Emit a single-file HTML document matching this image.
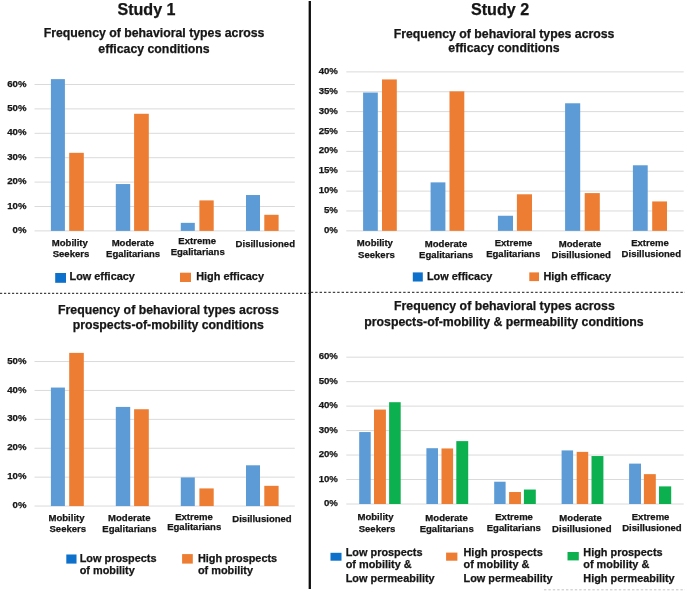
<!DOCTYPE html><html><head><meta charset="utf-8"><style>
html,body{margin:0;padding:0;background:#fff;}
svg{display:block;font-family:"Liberation Sans",sans-serif;font-weight:bold;fill:#141414;}text{stroke:#141414;stroke-width:0.25px;}
</style></head><body>
<svg width="685" height="591" viewBox="0 0 685 591">
<defs><filter id="soft" x="0" y="0" width="685" height="591" filterUnits="userSpaceOnUse"><feGaussianBlur stdDeviation="0.45"/></filter></defs>
<rect width="685" height="591" fill="#fff"/>
<g filter="url(#soft)">
<line x1="309.8" x2="309.8" y1="1" y2="589" stroke="#0a0a0a" stroke-width="2.3"/>
<line x1="0" x2="308.8" y1="293.4" y2="293.4" stroke="#444" stroke-width="1.2" stroke-dasharray="2.2 1.8"/>
<line x1="310.8" x2="685" y1="292.3" y2="292.3" stroke="#444" stroke-width="1.2" stroke-dasharray="2.4 2"/>
<line x1="544" x2="685" y1="589.8" y2="589.8" stroke="#c4c4c4" stroke-width="1" stroke-dasharray="2.4 2"/>
<text x="146.50" y="14.80" font-size="16.1" text-anchor="middle" >Study 1</text>
<text x="500.10" y="15.20" font-size="16.1" text-anchor="middle" >Study 2</text>
<text x="154.00" y="37.30" font-size="12.3" text-anchor="middle" >Frequency of behavioral types across</text>
<text x="154.00" y="52.70" font-size="12.3" text-anchor="middle" >efficacy conditions</text>
<line x1="34.5" x2="294.8" y1="230.90" y2="230.90" stroke="#dadada" stroke-width="1"/>
<text x="26.50" y="233.00" font-size="9.65" text-anchor="end" >0%</text>
<line x1="34.5" x2="294.8" y1="206.50" y2="206.50" stroke="#dadada" stroke-width="1"/>
<text x="26.50" y="208.60" font-size="9.65" text-anchor="end" >10%</text>
<line x1="34.5" x2="294.8" y1="182.10" y2="182.10" stroke="#dadada" stroke-width="1"/>
<text x="26.50" y="184.20" font-size="9.65" text-anchor="end" >20%</text>
<line x1="34.5" x2="294.8" y1="157.70" y2="157.70" stroke="#dadada" stroke-width="1"/>
<text x="26.50" y="159.80" font-size="9.65" text-anchor="end" >30%</text>
<line x1="34.5" x2="294.8" y1="133.30" y2="133.30" stroke="#dadada" stroke-width="1"/>
<text x="26.50" y="135.40" font-size="9.65" text-anchor="end" >40%</text>
<line x1="34.5" x2="294.8" y1="108.90" y2="108.90" stroke="#dadada" stroke-width="1"/>
<text x="26.50" y="111.00" font-size="9.65" text-anchor="end" >50%</text>
<line x1="34.5" x2="294.8" y1="84.50" y2="84.50" stroke="#dadada" stroke-width="1"/>
<text x="26.50" y="86.60" font-size="9.65" text-anchor="end" >60%</text>
<rect x="50.90" y="79.13" width="14.00" height="151.77" fill="#5b9bd5"/>
<rect x="69.20" y="152.82" width="14.60" height="78.08" fill="#ed7d31"/>
<rect x="115.80" y="184.05" width="14.40" height="46.85" fill="#5b9bd5"/>
<rect x="134.10" y="113.78" width="14.70" height="117.12" fill="#ed7d31"/>
<rect x="180.80" y="222.85" width="14.00" height="8.05" fill="#5b9bd5"/>
<rect x="199.40" y="200.40" width="14.30" height="30.50" fill="#ed7d31"/>
<rect x="246.00" y="195.03" width="14.00" height="35.87" fill="#5b9bd5"/>
<rect x="264.30" y="214.80" width="14.30" height="16.10" fill="#ed7d31"/>
<text x="69.80" y="245.60" font-size="9.55" text-anchor="middle" >Mobility</text>
<text x="71.00" y="257.00" font-size="9.55" text-anchor="middle" >Seekers</text>
<text x="132.90" y="245.80" font-size="9.55" text-anchor="middle" >Moderate</text>
<text x="133.10" y="256.60" font-size="9.55" text-anchor="middle" >Egalitarians</text>
<text x="197.20" y="244.40" font-size="9.55" text-anchor="middle" >Extreme</text>
<text x="197.70" y="255.20" font-size="9.55" text-anchor="middle" >Egalitarians</text>
<text x="265.30" y="246.60" font-size="9.55" text-anchor="middle" >Disillusioned</text>
<rect x="55.20" y="273.00" width="10.80" height="9.80" fill="#0c6fca"/>
<text x="69.50" y="279.60" font-size="10.9" text-anchor="start" >Low efficacy</text>
<rect x="180.00" y="272.70" width="11.00" height="9.30" fill="#ed7d31"/>
<text x="196.20" y="279.60" font-size="10.9" text-anchor="start" >High efficacy</text>
<text x="504.10" y="37.60" font-size="12.3" text-anchor="middle" >Frequency of behavioral types across</text>
<text x="504.00" y="52.20" font-size="12.3" text-anchor="middle" >efficacy conditions</text>
<line x1="346.3" x2="683.7" y1="230.85" y2="230.85" stroke="#dadada" stroke-width="1"/>
<text x="337.90" y="232.95" font-size="9.65" text-anchor="end" >0%</text>
<line x1="346.3" x2="683.7" y1="210.98" y2="210.98" stroke="#dadada" stroke-width="1"/>
<text x="337.90" y="213.08" font-size="9.65" text-anchor="end" >5%</text>
<line x1="346.3" x2="683.7" y1="191.11" y2="191.11" stroke="#dadada" stroke-width="1"/>
<text x="337.90" y="193.21" font-size="9.65" text-anchor="end" >10%</text>
<line x1="346.3" x2="683.7" y1="171.24" y2="171.24" stroke="#dadada" stroke-width="1"/>
<text x="337.90" y="173.34" font-size="9.65" text-anchor="end" >15%</text>
<line x1="346.3" x2="683.7" y1="151.37" y2="151.37" stroke="#dadada" stroke-width="1"/>
<text x="337.90" y="153.47" font-size="9.65" text-anchor="end" >20%</text>
<line x1="346.3" x2="683.7" y1="131.50" y2="131.50" stroke="#dadada" stroke-width="1"/>
<text x="337.90" y="133.60" font-size="9.65" text-anchor="end" >25%</text>
<line x1="346.3" x2="683.7" y1="111.63" y2="111.63" stroke="#dadada" stroke-width="1"/>
<text x="337.90" y="113.73" font-size="9.65" text-anchor="end" >30%</text>
<line x1="346.3" x2="683.7" y1="91.76" y2="91.76" stroke="#dadada" stroke-width="1"/>
<text x="337.90" y="93.86" font-size="9.65" text-anchor="end" >35%</text>
<line x1="346.3" x2="683.7" y1="71.89" y2="71.89" stroke="#dadada" stroke-width="1"/>
<text x="337.90" y="73.99" font-size="9.65" text-anchor="end" >40%</text>
<rect x="363.10" y="92.55" width="14.70" height="138.30" fill="#5b9bd5"/>
<rect x="382.00" y="79.44" width="14.80" height="151.41" fill="#ed7d31"/>
<rect x="430.60" y="182.37" width="14.80" height="48.48" fill="#5b9bd5"/>
<rect x="449.50" y="91.36" width="14.80" height="139.49" fill="#ed7d31"/>
<rect x="497.90" y="215.75" width="15.10" height="15.10" fill="#5b9bd5"/>
<rect x="516.90" y="194.29" width="15.10" height="36.56" fill="#ed7d31"/>
<rect x="565.10" y="103.28" width="15.10" height="127.57" fill="#5b9bd5"/>
<rect x="584.70" y="193.10" width="15.10" height="37.75" fill="#ed7d31"/>
<rect x="632.90" y="165.28" width="14.80" height="65.57" fill="#5b9bd5"/>
<rect x="652.20" y="201.44" width="14.80" height="29.41" fill="#ed7d31"/>
<text x="374.90" y="246.40" font-size="9.55" text-anchor="middle" >Mobility</text>
<text x="376.40" y="257.60" font-size="9.55" text-anchor="middle" >Seekers</text>
<text x="446.00" y="247.20" font-size="9.55" text-anchor="middle" >Moderate</text>
<text x="446.10" y="258.10" font-size="9.55" text-anchor="middle" >Egalitarians</text>
<text x="513.50" y="246.20" font-size="9.55" text-anchor="middle" >Extreme</text>
<text x="513.20" y="257.10" font-size="9.55" text-anchor="middle" >Egalitarians</text>
<text x="580.00" y="247.20" font-size="9.55" text-anchor="middle" >Moderate</text>
<text x="581.20" y="258.30" font-size="9.55" text-anchor="middle" >Disillusioned</text>
<text x="650.00" y="246.20" font-size="9.55" text-anchor="middle" >Extreme</text>
<text x="651.30" y="257.10" font-size="9.55" text-anchor="middle" >Disillusioned</text>
<rect x="412.80" y="272.40" width="10.00" height="9.10" fill="#0c6fca"/>
<text x="426.90" y="279.50" font-size="10.9" text-anchor="start" >Low efficacy</text>
<rect x="529.30" y="272.40" width="9.70" height="8.70" fill="#ed7d31"/>
<text x="543.40" y="279.50" font-size="10.9" text-anchor="start" >High efficacy</text>
<text x="168.40" y="314.30" font-size="12.3" text-anchor="middle" >Frequency of behavioral types across</text>
<text x="168.30" y="328.90" font-size="12.3" text-anchor="middle" >prospects-of-mobility conditions</text>
<line x1="34.5" x2="294.8" y1="506.05" y2="506.05" stroke="#dadada" stroke-width="1"/>
<text x="26.50" y="508.15" font-size="9.65" text-anchor="end" >0%</text>
<line x1="34.5" x2="294.8" y1="477.15" y2="477.15" stroke="#dadada" stroke-width="1"/>
<text x="26.50" y="479.25" font-size="9.65" text-anchor="end" >10%</text>
<line x1="34.5" x2="294.8" y1="448.25" y2="448.25" stroke="#dadada" stroke-width="1"/>
<text x="26.50" y="450.35" font-size="9.65" text-anchor="end" >20%</text>
<line x1="34.5" x2="294.8" y1="419.35" y2="419.35" stroke="#dadada" stroke-width="1"/>
<text x="26.50" y="421.45" font-size="9.65" text-anchor="end" >30%</text>
<line x1="34.5" x2="294.8" y1="390.45" y2="390.45" stroke="#dadada" stroke-width="1"/>
<text x="26.50" y="392.55" font-size="9.65" text-anchor="end" >40%</text>
<line x1="34.5" x2="294.8" y1="361.55" y2="361.55" stroke="#dadada" stroke-width="1"/>
<text x="26.50" y="363.65" font-size="9.65" text-anchor="end" >50%</text>
<rect x="50.90" y="387.56" width="14.00" height="118.49" fill="#5b9bd5"/>
<rect x="69.20" y="352.88" width="14.60" height="153.17" fill="#ed7d31"/>
<rect x="115.80" y="406.92" width="14.40" height="99.13" fill="#5b9bd5"/>
<rect x="134.10" y="409.24" width="14.70" height="96.81" fill="#ed7d31"/>
<rect x="180.80" y="477.44" width="14.00" height="28.61" fill="#5b9bd5"/>
<rect x="199.40" y="488.42" width="14.30" height="17.63" fill="#ed7d31"/>
<rect x="246.00" y="465.30" width="14.00" height="40.75" fill="#5b9bd5"/>
<rect x="264.30" y="485.82" width="14.30" height="20.23" fill="#ed7d31"/>
<text x="66.50" y="520.60" font-size="9.55" text-anchor="middle" >Mobility</text>
<text x="67.80" y="531.50" font-size="9.55" text-anchor="middle" >Seekers</text>
<text x="129.30" y="521.00" font-size="9.55" text-anchor="middle" >Moderate</text>
<text x="129.40" y="531.50" font-size="9.55" text-anchor="middle" >Egalitarians</text>
<text x="194.00" y="520.20" font-size="9.55" text-anchor="middle" >Extreme</text>
<text x="194.20" y="530.40" font-size="9.55" text-anchor="middle" >Egalitarians</text>
<text x="262.00" y="522.20" font-size="9.55" text-anchor="middle" >Disillusioned</text>
<rect x="66.30" y="554.50" width="10.20" height="9.10" fill="#0c6fca"/>
<text x="79.70" y="562.00" font-size="10.9" text-anchor="start" >Low prospects</text>
<text x="79.70" y="573.80" font-size="10.9" text-anchor="start" >of mobility</text>
<rect x="182.10" y="554.10" width="10.70" height="9.50" fill="#ed7d31"/>
<text x="197.90" y="562.00" font-size="10.9" text-anchor="start" >High prospects</text>
<text x="197.90" y="573.80" font-size="10.9" text-anchor="start" >of mobility</text>
<text x="504.40" y="310.30" font-size="12.3" text-anchor="middle" >Frequency of behavioral types across</text>
<text x="504.00" y="325.70" font-size="12.3" text-anchor="middle" >prospects-of-mobility &amp; permeability conditions</text>
<line x1="346.3" x2="683.7" y1="504.00" y2="504.00" stroke="#dadada" stroke-width="1"/>
<text x="337.90" y="506.10" font-size="9.65" text-anchor="end" >0%</text>
<line x1="346.3" x2="683.7" y1="479.53" y2="479.53" stroke="#dadada" stroke-width="1"/>
<text x="337.90" y="481.63" font-size="9.65" text-anchor="end" >10%</text>
<line x1="346.3" x2="683.7" y1="455.06" y2="455.06" stroke="#dadada" stroke-width="1"/>
<text x="337.90" y="457.16" font-size="9.65" text-anchor="end" >20%</text>
<line x1="346.3" x2="683.7" y1="430.59" y2="430.59" stroke="#dadada" stroke-width="1"/>
<text x="337.90" y="432.69" font-size="9.65" text-anchor="end" >30%</text>
<line x1="346.3" x2="683.7" y1="406.12" y2="406.12" stroke="#dadada" stroke-width="1"/>
<text x="337.90" y="408.22" font-size="9.65" text-anchor="end" >40%</text>
<line x1="346.3" x2="683.7" y1="381.65" y2="381.65" stroke="#dadada" stroke-width="1"/>
<text x="337.90" y="383.75" font-size="9.65" text-anchor="end" >50%</text>
<line x1="346.3" x2="683.7" y1="357.18" y2="357.18" stroke="#dadada" stroke-width="1"/>
<text x="337.90" y="359.28" font-size="9.65" text-anchor="end" >60%</text>
<rect x="359.20" y="432.06" width="11.50" height="71.94" fill="#5b9bd5"/>
<rect x="374.00" y="409.55" width="11.90" height="94.45" fill="#ed7d31"/>
<rect x="389.10" y="402.20" width="11.60" height="101.80" fill="#0eb050"/>
<rect x="426.40" y="448.21" width="11.60" height="55.79" fill="#5b9bd5"/>
<rect x="441.50" y="448.45" width="11.60" height="55.55" fill="#ed7d31"/>
<rect x="456.30" y="441.11" width="11.90" height="62.89" fill="#0eb050"/>
<rect x="494.20" y="481.73" width="11.40" height="22.27" fill="#5b9bd5"/>
<rect x="509.10" y="492.01" width="11.90" height="11.99" fill="#ed7d31"/>
<rect x="523.90" y="489.56" width="11.90" height="14.44" fill="#0eb050"/>
<rect x="561.60" y="450.41" width="11.50" height="53.59" fill="#5b9bd5"/>
<rect x="576.70" y="451.88" width="11.50" height="52.12" fill="#ed7d31"/>
<rect x="591.50" y="456.04" width="11.90" height="47.96" fill="#0eb050"/>
<rect x="629.10" y="463.62" width="11.90" height="40.38" fill="#5b9bd5"/>
<rect x="643.90" y="474.15" width="11.90" height="29.85" fill="#ed7d31"/>
<rect x="659.00" y="486.38" width="12.20" height="17.62" fill="#0eb050"/>
<text x="375.50" y="520.40" font-size="9.55" text-anchor="middle" >Mobility</text>
<text x="377.00" y="531.60" font-size="9.55" text-anchor="middle" >Seekers</text>
<text x="446.60" y="521.20" font-size="9.55" text-anchor="middle" >Moderate</text>
<text x="446.70" y="532.10" font-size="9.55" text-anchor="middle" >Egalitarians</text>
<text x="514.10" y="520.20" font-size="9.55" text-anchor="middle" >Extreme</text>
<text x="513.80" y="531.10" font-size="9.55" text-anchor="middle" >Egalitarians</text>
<text x="580.60" y="521.20" font-size="9.55" text-anchor="middle" >Moderate</text>
<text x="581.80" y="532.30" font-size="9.55" text-anchor="middle" >Disillusioned</text>
<text x="650.60" y="520.20" font-size="9.55" text-anchor="middle" >Extreme</text>
<text x="651.90" y="531.10" font-size="9.55" text-anchor="middle" >Disillusioned</text>
<rect x="330.50" y="552.80" width="11.00" height="7.90" fill="#0c6fca"/>
<text x="345.70" y="555.70" font-size="10.9" text-anchor="start" >Low prospects</text>
<text x="345.70" y="568.40" font-size="10.9" text-anchor="start" >of mobility &amp;</text>
<text x="345.70" y="581.70" font-size="10.9" text-anchor="start" >Low permeability</text>
<rect x="446.10" y="552.60" width="11.30" height="8.10" fill="#ed7d31"/>
<text x="463.50" y="555.70" font-size="10.9" text-anchor="start" >High prospects</text>
<text x="463.50" y="568.40" font-size="10.9" text-anchor="start" >of mobility &amp;</text>
<text x="463.50" y="581.70" font-size="10.9" text-anchor="start" >Low permeability</text>
<rect x="567.50" y="552.00" width="11.30" height="8.40" fill="#0eb050"/>
<text x="583.30" y="555.70" font-size="10.9" text-anchor="start" >High prospects</text>
<text x="583.30" y="568.40" font-size="10.9" text-anchor="start" >of mobility &amp;</text>
<text x="583.30" y="581.70" font-size="10.9" text-anchor="start" >High permeability</text>
</g></svg></body></html>
